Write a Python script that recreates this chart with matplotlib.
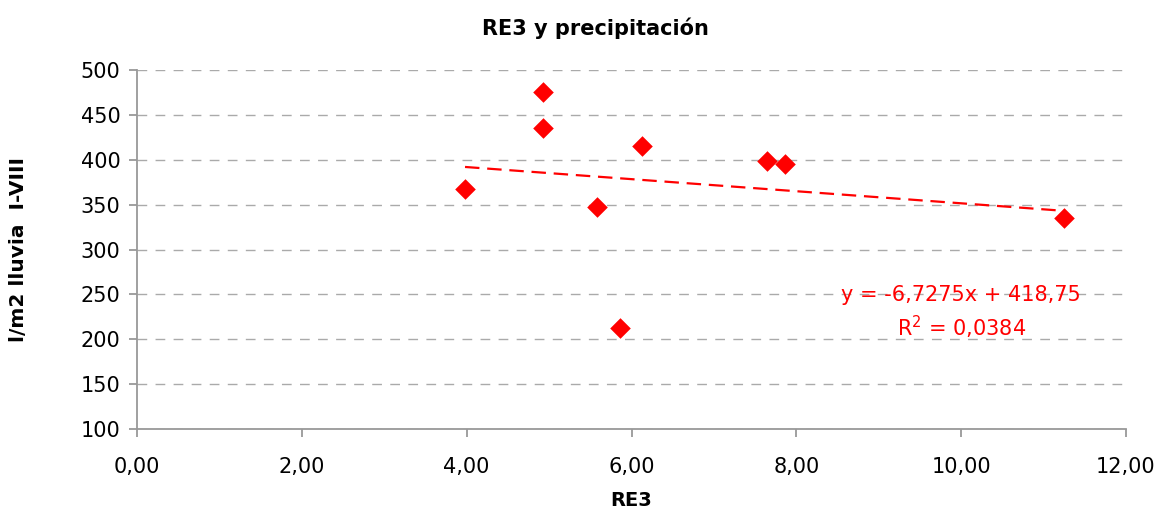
import matplotlib
matplotlib.use("Agg")
from matplotlib import pyplot as plt
from matplotlib.ticker import FuncFormatter

plt.rc('font', family='DejaVu Sans')

# RE3 values and rainfall (l/m2, I-VIII)
re3 = [3.98, 4.93, 4.93, 5.58, 5.86, 6.13, 7.64, 7.86, 11.25]
lluvia = [367, 475, 435, 347, 212, 415, 399, 395, 335]

# linear trend as printed on the chart
slope = -6.7275
intercept = 418.75
r2 = 0.0384

fig = plt.figure(figsize=(11.6, 5.12), dpi=100)
ax = fig.add_axes([137 / 1160, 1 - 429 / 512, (1126 - 137) / 1160, (429 - 70) / 512])

ax.scatter(re3, lluvia, marker='D', s=110, color='#ff0000', zorder=3, linewidths=0)

xt = [min(re3), max(re3)]
ax.plot(xt, [slope * x + intercept for x in xt], color='#ff0000', lw=1.6,
        dashes=(6.5, 3.5), zorder=2)

ax.text(10.0, 249, f"y = {slope:.4f}x + {intercept:.2f}".replace('.', ','),
        color='#ff0000', fontsize=15, ha='center', va='center')
ax.text(10.0, 213, f"R$^2$ = {r2:.4f}".replace('.', ','),
        color='#ff0000', fontsize=15, ha='center', va='center')

ax.set_xlim(0, 12)
ax.set_ylim(100, 500)
ax.set_xticks(range(0, 13, 2))
ax.set_yticks(range(100, 501, 50))
ax.xaxis.set_major_formatter(FuncFormatter(lambda v, p: f"{v:.2f}".replace('.', ',')))

for s in ['top', 'right']:
    ax.spines[s].set_visible(False)
for s in ['left', 'bottom']:
    ax.spines[s].set_color('#999999')
    ax.spines[s].set_linewidth(1.3)
ax.tick_params(direction='out', length=6, width=1.3, color='#999999',
               labelsize=15, labelcolor='black')
ax.tick_params(axis='x', pad=14)
ax.tick_params(axis='y', pad=6)
ax.grid(True, axis='y', color='#aaaaaa', ls=(0, (7, 6)), lw=1)
ax.set_axisbelow(True)

fig.text(595 / 1160, 1 - 28 / 512, "RE3 y precipitación", fontsize=15,
         fontweight='bold', ha='center', va='center')
ax.set_xlabel("RE3", fontsize=14, fontweight='bold', labelpad=10)
ax.set_ylabel("l/m2 lluvia  I-VIII", fontsize=14.5, fontweight='bold', labelpad=38)

fig.savefig("out.png", dpi=100)
